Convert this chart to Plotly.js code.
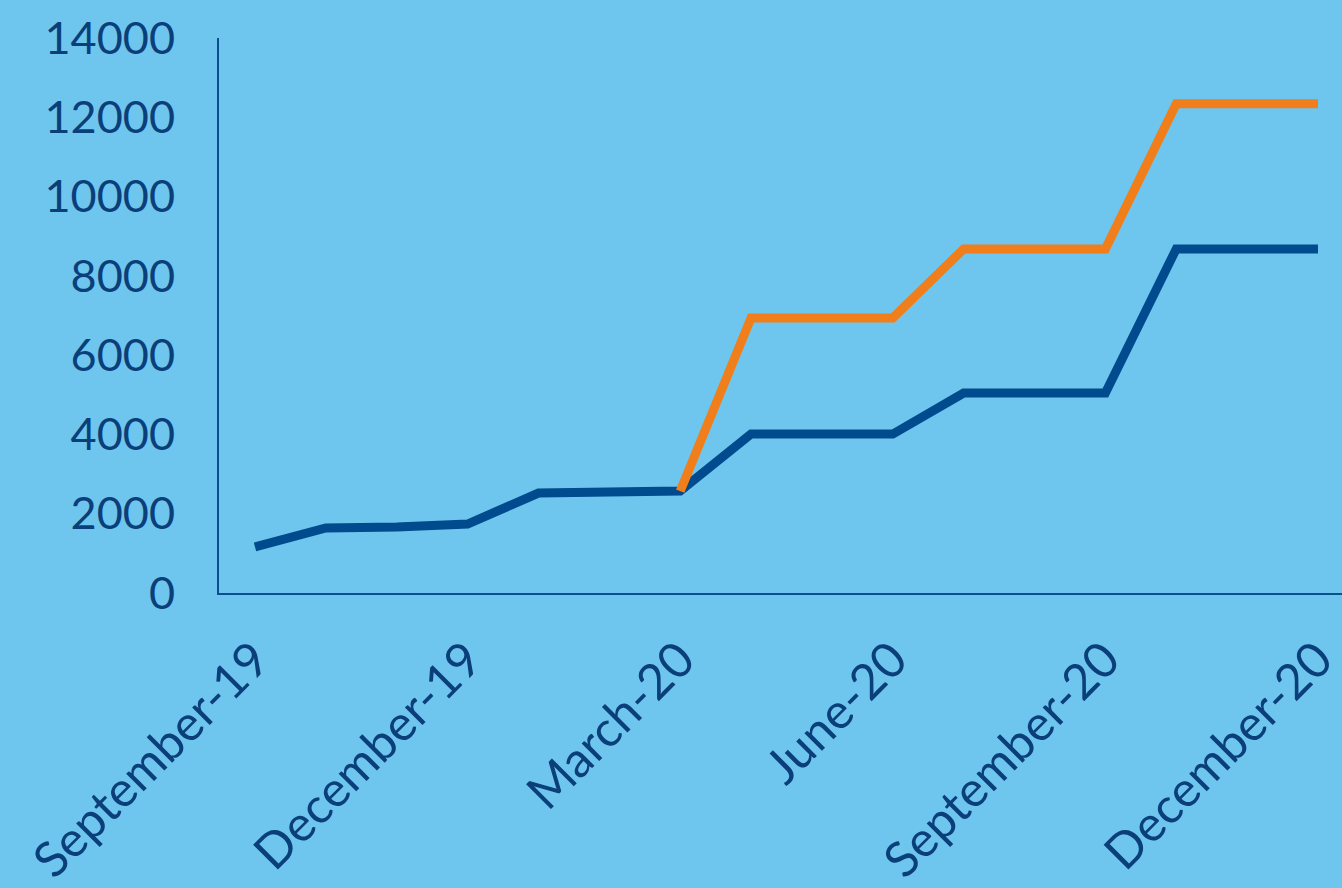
<!DOCTYPE html>
<html><head><meta charset="utf-8">
<script src="https://cdn.plot.ly/plotly-3.0.1.min.js"></script>
<style>html,body{margin:0;padding:0;background:#6EC6EE;}#chart{width:1342px;height:888px;}</style>
</head><body><div id="chart"></div>
<script>
const months = ["Sep-19","Oct-19","Nov-19","Dec-19","Jan-20","Feb-20","Mar-20","Apr-20","May-20","Jun-20","Jul-20","Aug-20","Sep-20","Oct-20","Nov-20","Dec-20"];
const blueValues = [1160,1640,1665,1740,2520,2550,2570,4010,4010,4010,5045,5045,5045,8680,8680,8680];
const orangeValues = [null,null,null,null,null,null,2570,6940,6940,6940,8680,8680,8680,12340,12340,12340];
const tickIndex = [0,3,6,9,12,15];
const tickLabels = ["September-19","December-19","March-20","June-20","September-20","December-20"];

const idx = months.map((m,i)=>i);
const font = "Lato, 'Open Sans', sans-serif";
const textColor = "#0B3F7A";

const traces = [
  {x: idx, y: blueValues, type:"scatter", mode:"lines", name:"Blue", text: months,
   line:{color:"#004B8D", width:9}},
  {x: idx, y: orangeValues, type:"scatter", mode:"lines", name:"Orange", text: months,
   line:{color:"#F07E1B", width:9}, connectgaps:false}
];
const layout = {
  width:1342, height:888,
  paper_bgcolor:"#6EC6EE", plot_bgcolor:"#6EC6EE",
  margin:{l:219, r:0, t:38, b:295},
  showlegend:false,
  font:{family:font, color:textColor},
  xaxis:{range:[-0.508,15.339], tickmode:"array", tickvals:tickIndex, ticktext:tickLabels,
    tickangle:-45, showgrid:false, zeroline:false, showline:true, linecolor:"#0B4F8F", linewidth:2,
    ticks:"", ticklabelstandoff:16, ticklabeloverflow:"allow",
    tickfont:{size:49, family:font, color:textColor}},
  yaxis:{range:[0,14000], dtick:2000, tick0:0, tickformat:"d", showgrid:false, zeroline:false, showline:true,
    linecolor:"#0B4F8F", linewidth:2, ticks:"", ticklabelstandoff:33,
    tickfont:{size:45, family:font, color:textColor}}
};
Plotly.newPlot("chart", traces, layout, {staticPlot:true});
</script></body></html>
